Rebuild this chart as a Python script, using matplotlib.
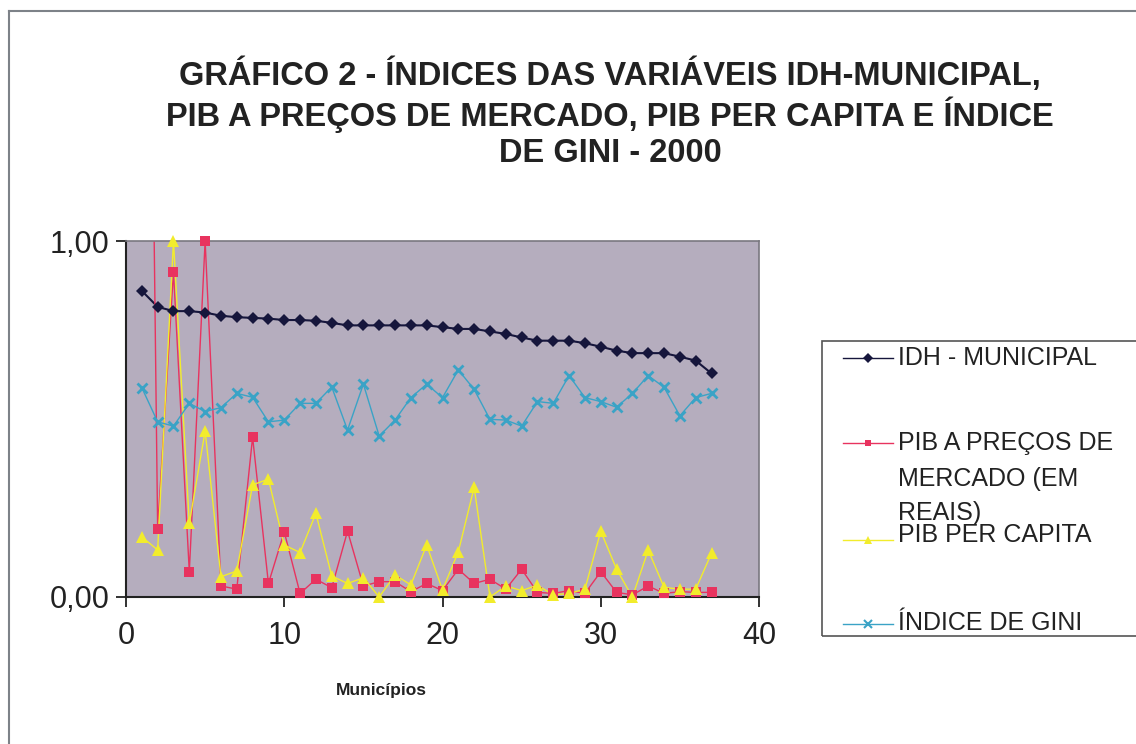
import numpy as np
import matplotlib
matplotlib.use("Agg")
import matplotlib.pyplot as plt
from matplotlib.lines import Line2D
from matplotlib.patches import Rectangle

plt.rcParams['font.family'] = ['Liberation Sans', 'DejaVu Sans']

municipios = list(range(1, 38))
idh = [0.860, 0.815, 0.803, 0.803, 0.799, 0.790, 0.786, 0.784, 0.782, 0.778,
       0.778, 0.776, 0.770, 0.763, 0.763, 0.763, 0.763, 0.763, 0.763, 0.758,
       0.753, 0.753, 0.746, 0.739, 0.729, 0.720, 0.720, 0.720, 0.713, 0.703,
       0.692, 0.685, 0.685, 0.685, 0.675, 0.664, 0.628]
pib_mercado = [3.9, 0.190, 0.914, 0.071, 1.000, 0.031, 0.022, 0.449, 0.038, 0.183,
               0.010, 0.050, 0.026, 0.185, 0.031, 0.043, 0.043, 0.015, 0.038, 0.018,
               0.078, 0.038, 0.050, 0.022, 0.078, 0.013, 0.010, 0.018, 0.010, 0.071,
               0.013, 0.006, 0.031, 0.010, 0.015, 0.013, 0.013]
pib_per_capita = [0.169, 0.132, 1.000, 0.207, 0.466, 0.057, 0.073, 0.315, 0.331, 0.146,
                  0.125, 0.235, 0.059, 0.038, 0.054, 0.000, 0.062, 0.034, 0.146, 0.020,
                  0.127, 0.308, 0.000, 0.031, 0.018, 0.033, 0.006, 0.010, 0.022, 0.185,
                  0.078, 0.000, 0.132, 0.027, 0.022, 0.022, 0.123]
gini = [0.588, 0.492, 0.480, 0.544, 0.521, 0.532, 0.572, 0.561, 0.492, 0.497,
        0.544, 0.544, 0.590, 0.469, 0.598, 0.452, 0.497, 0.560, 0.598, 0.560,
        0.638, 0.583, 0.499, 0.497, 0.480, 0.549, 0.544, 0.622, 0.560, 0.549,
        0.533, 0.572, 0.622, 0.589, 0.509, 0.560, 0.572]

labels = [["IDH - MUNICIPAL"], ["PIB A PREÇOS DE", "MERCADO (EM", "REAIS)"],
          ["PIB PER CAPITA"], ["ÍNDICE DE GINI"]]
title_lines = ["GRÁFICO 2 - ÍNDICES DAS VARIÁVEIS IDH-MUNICIPAL,",
               "PIB A PREÇOS DE MERCADO, PIB PER CAPITA E ÍNDICE",
               "DE GINI - 2000"]
xlabel = "Municípios"
yticks = [0.0, 1.0]
ytick_labels = ["0,00", "1,00"]
xticks = [0, 10, 20, 30, 40]

W, H = 1136, 744
fig = plt.figure(figsize=(W / 100, H / 100), dpi=100)

def fx(px):
    return px / W

def fy(py):
    return 1 - py / H

# figure border
fig.add_artist(Line2D([fx(9), fx(1136)], [fy(11), fy(11)], color='#7d8288', lw=1.5))
fig.add_artist(Line2D([fx(9), fx(9)], [fy(11), fy(744)], color='#7d8288', lw=1.5))

ax = fig.add_axes([fx(126), fy(597), fx(759) - fx(126), fy(241) - fy(597)])
ax.set_facecolor('#b5adbe')
ax.set_xlim(0, 40)
ax.set_ylim(0, 1)

styles = [
    dict(color='#16163c', marker='D', ms=6.5, lw=1.5, mew=0),
    dict(color='#e8335f', marker='s', ms=6.5, lw=1.0, mew=0),
    dict(color='#f2ec2c', marker='^', ms=8, lw=1.0, mew=0),
    dict(color='#3aa3c6', marker='x', ms=7, lw=1.0, mew=2),
]
series = [idh, pib_mercado, pib_per_capita, gini]
x = np.array(municipios)
for s, st in zip(series, styles):
    y = np.array(s, dtype=float)
    ax.plot(x, y, color=st['color'], lw=st['lw'], zorder=2)
    m = y <= 1.0
    ax.plot(x[m], y[m], ls='none', marker=st['marker'], ms=st['ms'],
            color=st['color'], mec=st['color'], mew=st['mew'], clip_on=False, zorder=3)

for sp in ['top', 'right']:
    ax.spines[sp].set_color('#7a7880')
    ax.spines[sp].set_linewidth(1.2)
for sp in ['left', 'bottom']:
    ax.spines[sp].set_color('#222222')
    ax.spines[sp].set_linewidth(1.5)

ax.set_yticks(yticks)
ax.set_yticklabels(ytick_labels)
ax.set_xticks(xticks)
ax.tick_params(axis='both', direction='out', length=7, width=1.3, labelsize=22,
               colors='#222222')
ax.tick_params(axis='x', pad=10)
ax.tick_params(axis='y', pad=5)

fig.text(fx(381), fy(690), xlabel, ha='center', va='center', fontsize=12.5,
         fontweight='bold', color='#222222')

for yy, line in zip([75, 115, 153], title_lines):
    fig.text(fx(610), fy(yy), line, ha='center', va='center', fontsize=23.5,
             fontweight='bold', color='#222222')

# legend box
fig.add_artist(Rectangle((fx(822), fy(636)), fx(1140) - fx(822), fy(341) - fy(636),
                         fill=False, edgecolor='#555555', lw=1.2))
entries = [(358, [358]), (443, [443, 479, 513]), (540, [535]), (624, [623])]
for (my, tys), labs, st in zip(entries, labels, styles):
    fig.add_artist(Line2D([fx(843), fx(893)], [fy(my), fy(my)], color=st['color'], lw=1.0))
    fig.add_artist(Line2D([fx(868)], [fy(my)], ls='none', marker=st['marker'],
                          ms=st['ms'] * 0.75, color=st['color'], mec=st['color'],
                          mew=st['mew'] * 0.75))
    for ty, lab in zip(tys, labs):
        fig.text(fx(898), fy(ty), lab, ha='left', va='center', fontsize=18,
                 color='#222222')

fig.savefig("out.png", dpi=100)
